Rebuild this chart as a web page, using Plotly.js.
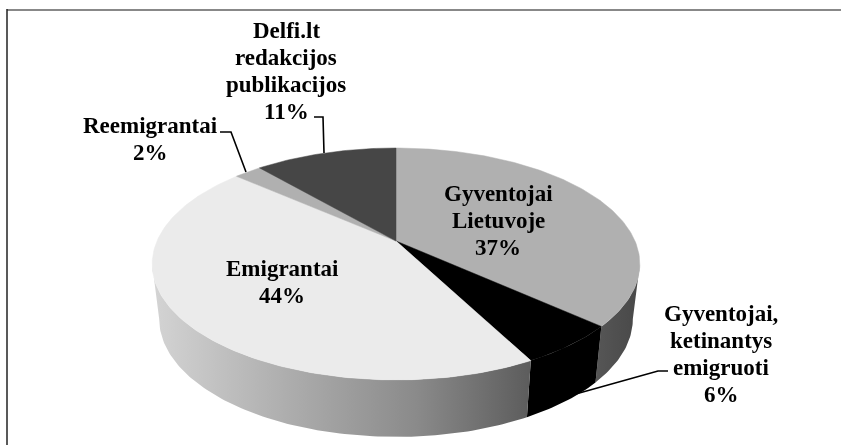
<!DOCTYPE html>
<html>
<head>
<meta charset="utf-8">
<script src="https://cdn.plot.ly/plotly-3.0.1.min.js"></script>
<style>html,body{margin:0;padding:0;background:#fff}#chart{width:841px;height:445px;filter:blur(0.4px)}</style>
</head>
<body>
<div id="chart"></div>
<script>
// Data, clockwise from 12 o'clock
const categories = [['Gyventojai', 'Lietuvoje'], ['Gyventojai,', 'ketinantys', 'emigruoti'], ['Emigrantai'], ['Reemigrantai'], ['Delfi.lt', 'redakcijos', 'publikacijos']];
const values = [36.6, 5.7, 44.1, 2.2, 11.4];
const topColors = ['#b0b0b0', '#000000', '#ebebeb', '#b0b0b0', '#464646'];
const wallScales = [
  [[0, '#565656'], [1, '#484848']],
  [[0, '#000000'], [1, '#000000']],
  [[0, '#d4d4d4'], [0.35, '#aeaeae'], [0.7, '#8a8a8a'], [1, '#5c5c5c']],
  null, null
];
const labelX = [498, 721, 282, 150, 286];
const labelY = [193, 313, 268, 125, 30];
const leaders = [
  'M220,132 L231,132 L246,172',
  'M314,117 L323,117 L324,153',
  'M668,371 L658,371 L565,397'
];
const lineStep = 27;

// Perspective disc geometry, in axis units equal to pixels
const cx = 396, apexY = 241, A = 239, B = 111.4, K = 0.198;
const ellipseY = 264, ellipseB = 116, ellipseA = 244;
const lowY = 319, lowA = 237, lowB = 118;

function topPoint(t) {
  const X = Math.sin(t), Y = Math.cos(t), d = 1 + K * Y;
  return [cx + A * X / d, apexY - B * Y / d];
}
function lowPoint(p) {
  return [cx + (p[0] - cx) * lowA / ellipseA, lowY + (p[1] - ellipseY) * lowB / ellipseB];
}
function arc(t0, t1) {
  const pts = [], n = Math.max(2, Math.ceil((t1 - t0) * 60));
  for (let i = 0; i <= n; i++) pts.push(topPoint(t0 + (t1 - t0) * i / n));
  return pts;
}

const total = values.reduce((a, b) => a + b, 0);
const traces = [];
let acc = 0;
const spans = values.map(v => { const s = [acc, acc + v]; acc += v; return s.map(u => u / total * 2 * Math.PI); });

// Outer walls: only the front of the rim shows
const tLeft = (() => {
  let best = 0, bx = 1e9;
  for (let t = Math.PI; t < 2 * Math.PI; t += 0.002) { const p = topPoint(t); if (p[0] < bx) { bx = p[0]; best = t; } }
  return best;
})();
const tRight = 2 * Math.PI - tLeft;
spans.forEach((s, i) => {
  if (!wallScales[i]) return;
  const a = Math.max(s[0], tRight), b = Math.min(s[1], tLeft);
  if (b <= a) return;
  const up = arc(a, b), low = up.map(lowPoint).reverse();
  const poly = up.concat(low);
  traces.push({
    type: 'scatter', mode: 'lines', x: poly.map(p => p[0]), y: poly.map(p => p[1]),
    fill: 'toself', line: {width: 0, color: 'rgba(0,0,0,0)'},
    fillcolor: wallScales[i][0][1],
    fillgradient: {type: 'horizontal', colorscale: wallScales[i]},
    hoverinfo: 'skip', showlegend: false
  });
});

// Top face slices
spans.forEach((s, i) => {
  const pts = [[cx, apexY]].concat(arc(s[0], s[1])).concat([[cx, apexY]]);
  traces.push({
    type: 'scatter', mode: 'lines', x: pts.map(p => p[0]), y: pts.map(p => p[1]),
    fill: 'toself', fillcolor: topColors[i], line: {width: 0.5, color: topColors[i]},
    hoverinfo: 'skip', showlegend: false
  });
});

const annotations = [];
categories.forEach((c, i) => {
  c.concat([Math.round(values[i]) + '%']).forEach((line, j) => {
    annotations.push({
      x: labelX[i], y: labelY[i] + j * lineStep, xref: 'x', yref: 'y', showarrow: false,
      xanchor: 'center', yanchor: 'middle', text: '<b>' + line + '</b>',
      font: {family: '"Liberation Serif", serif', size: 23, color: '#000'}
    });
  });
});

const shapes = leaders.map(p => ({type: 'path', path: p, xref: 'x', yref: 'y', line: {color: '#000', width: 1.6}}));
shapes.push({type: 'line', xref: 'x', yref: 'y', x0: 7, x1: 841, y0: 10, y1: 10, line: {color: '#888', width: 2}});
shapes.push({type: 'line', xref: 'x', yref: 'y', x0: 7, x1: 7, y0: 9, y1: 445, line: {color: '#222', width: 1.5}});

const layout = {
  width: 841, height: 445, margin: {l: 0, r: 0, t: 0, b: 0},
  paper_bgcolor: '#fff', plot_bgcolor: '#fff', showlegend: false,
  xaxis: {range: [0, 841], visible: false, fixedrange: true},
  yaxis: {range: [445, 0], visible: false, fixedrange: true},
  annotations, shapes
};
Plotly.newPlot('chart', traces, layout, {displayModeBar: false, staticPlot: true});
</script>
</body>
</html>
